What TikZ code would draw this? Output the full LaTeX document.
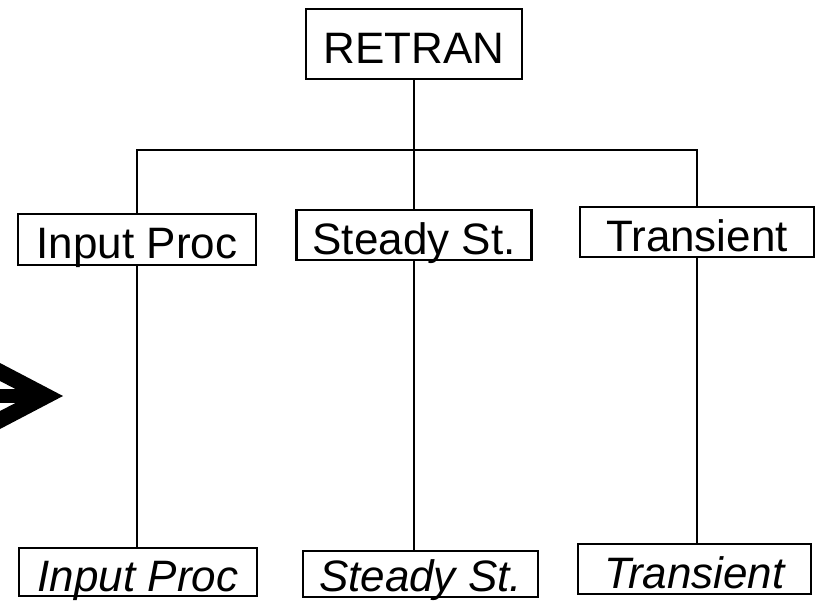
\documentclass[tikz,border=0pt]{standalone}
\usepackage{fontspec}
\setmainfont{Liberation Sans}
\usetikzlibrary{positioning}

\begin{document}
\begin{tikzpicture}[x=1pt,y=-1pt,line width=2.8pt,
	box/.style={draw,inner sep=0pt,minimum height=50pt,text height=39pt,text depth=0pt,font=\fontsize{44}{50}\selectfont},
	italbox/.style={box,font=\fontsize{44}{50}\selectfont\itshape}]
	\useasboundingbox (0,0) rectangle (816,601);

	% Top of tree
	\node[box,minimum width=216pt,minimum height=70pt] (retran) at (414,44) {RETRAN};
	\coordinate (bar) at (414,150);

	% Middle row
	\node[box,minimum width=238pt,minimum height=51pt] (inproc) at (137,239.5) {Input Proc};
	\node[box,minimum width=235pt] (steady) at (414,235) {Steady St.};
	\node[box,minimum width=234pt] (trans) at (697,232) {Transient};

	% Bottom row
	\node[italbox,minimum width=238pt,minimum height=48pt] (inprocb) at (138,572) {Input Proc};
	\node[italbox,minimum width=235pt,minimum height=46pt,text height=35pt] (steadyb) at (420.5,574) {Steady St.};
	\node[italbox,minimum width=233pt] (transb) at (694.5,569) {Transient};

	\draw (retran.south) -- (bar);
	\draw (inproc.north) |- (bar) -| (trans.north);
	\draw (bar) -- (steady.north);

	\draw (inproc.south) -- (inproc.south |- inprocb.north);
	\draw (steady.south) -- (steady.south |- steadyb.north);
	\draw (trans.south) -- (trans.south |- transb.north);

	% big arrow at the left edge
	\fill[black] (0,363) -- (63,396) -- (0,429) -- (0,411) -- (29,396) -- (0,381) -- cycle;
	\fill[black] (0,389) rectangle (35,403);
\end{tikzpicture}
\end{document}
